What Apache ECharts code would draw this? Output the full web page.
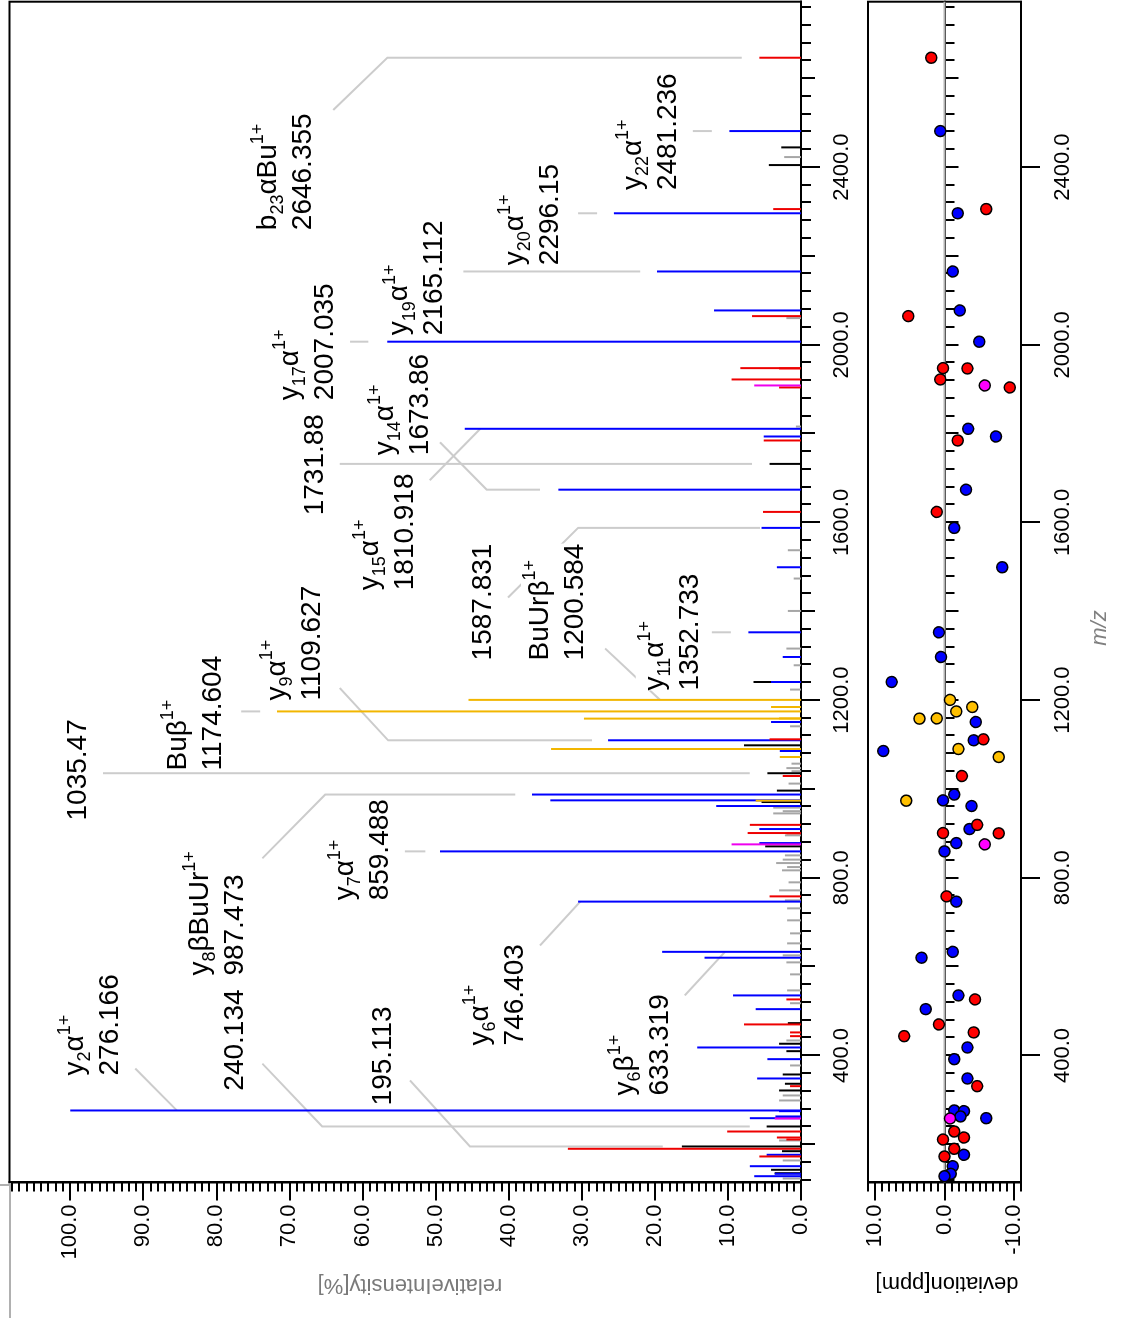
<!DOCTYPE html>
<html>
<head>
<meta charset="utf-8">
<script src="https://cdn.jsdelivr.net/npm/echarts@6/dist/echarts.min.js"></script>
<style>
html, body { margin: 0; padding: 0; background: #fff; overflow: hidden; }
#wrap { position: absolute; left: 0; top: 0; width: 1123px; height: 1321px; overflow: hidden; }
/* the chart is drawn lying down and turned a quarter turn to stand up */
#chart { position: absolute; left: 0; top: 0; width: 1321px; height: 1123px;
         transform-origin: 0 0; transform: translate(0, 1321px) rotate(-90deg); }
</style>
</head>
<body>
<div id="wrap"><div id="chart"></div></div>
<script>
var myChart = echarts.init(document.getElementById('chart'), null, { width: 1321, height: 1123 });
var FONT = '"Liberation Sans", Arial, sans-serif';

// axis ranges and tick labels
var mzRange = [114, 2772.5];
var intRange = [0, 108.3];
var devRange = [-11, 11];
var mzLabels = [400, 800, 1200, 1600, 2000, 2400];
var intLabels = [0, 10, 20, 30, 40, 50, 60, 70, 80, 90, 100];
var devLabels = [-10, 0, 10];

// peaks [m/z, relative intensity %]
var grayPeaks = [[2422.7, 2.3], [2060.1, 2.0], [1816.0, 0.7], [1537.5, 1.8], [1473.8, 1.0], [1400.8, 1.8],
  [1316.1, 2.0], [1278.5, 1.0], [1223.8, 1.5], [1141.1, 1.5], [1057, 1.3], [1047, 2.0], [1040, 1.3],
  [1012.1, 1.7], [958, 3.8], [950, 2.5], [945, 3.8], [895.6, 2.2], [850.5, 2.2], [840.9, 2.5],
  [833.2, 3.4], [824.2, 1.9], [816.8, 2.6], [789.8, 1.7], [771.7, 3.0], [749.2, 2.2], [731.2, 1.9],
  [704.2, 1.9], [674.9, 1.5], [652.4, 1.9], [625.4, 2.5], [609.6, 2.0], [582.6, 1.5], [546.5, 1.9],
  [517.6, 1.5], [433.8, 2.0], [377.5, 1.5], [310, 2.5], [298.7, 3.0], [208.6, 3.0], [163.6, 2.5], [123, 2.5]];
var blackPeaks = [[2444.5, 2.7], [2404.7, 4.4], [1731.88, 4.3], [1240.9, 6.5], [1098.3, 7.8], [1035.47, 4.6],
  [996.3, 3.3], [970.6, 5.4], [870.8, 4.9], [472.8, 1.8], [426.4, 3.0], [409.7, 2.0], [357.2, 2.5],
  [336.3, 2.2], [321.2, 3.0], [240.134, 4.7], [195.113, 16.3], [184.5, 2.6], [142.6, 4.1], [135.0, 3.6]];
var bluePeaks = [[2481.236, 9.8], [2296.15, 25.6], [2165.112, 19.7], [2077.4, 11.9], [2007.035, 56.6],
  [1810.918, 46.0], [1793.6, 5.1], [1673.86, 33.2], [1587.831, 5.4], [1499.2, 3.3], [1352.733, 7.2],
  [1297.2, 2.5], [1240.9, 4.1], [1150.8, 4.1], [1109.627, 26.4], [1085.5, 2.9], [987.473, 36.8],
  [974.4, 34.3], [961.6, 11.6], [909.8, 5.7], [878.2, 5.7], [859.488, 49.4], [746.403, 30.5],
  [633.319, 19.0], [620.1, 13.2], [535.2, 9.3], [504.3, 6.2], [418.0, 14.2], [391.7, 4.6], [348.2, 6.0],
  [276.166, 100.0], [274.6, 3.0], [262.7, 3.5], [258.8, 7.0], [176.4, 4.7], [150.7, 7.0], [133.6, 3.6], [128.2, 6.4]];
var redPeaks = [[2646.355, 5.7], [2305.6, 3.8], [2064.6, 6.7], [1947.5, 8.3], [1946.8, 3.0], [1922.0, 9.5],
  [1904.0, 3.0], [1784.6, 5.1], [1623.8, 5.2], [1111.8, 4.3], [1029.2, 2.5], [919.2, 7.0], [900.8, 7.3],
  [900.2, 2.0], [758.2, 4.3], [526.2, 2.0], [469.9, 7.8], [451.9, 1.5], [443.5, 1.5], [330.9, 1.5],
  [228.8, 10.1], [215.3, 3.3], [210.8, 2.0], [189.9, 31.9], [172.6, 5.7]];
var goldPeaks = [[1200.584, 45.5], [1184.6, 4.1], [1174.604, 71.7], [1158.4, 29.7], [1158.9, 3.0],
  [1090.0, 34.2], [1072.0, 2.9], [973.7, 6.2]];
var magentaPeaks = [[1908.5, 6.4], [875.3, 9.5], [258.1, 3.6]];

// mass deviation [m/z, ppm]
var blueDev = [[2481.236, 0.6], [2296.15, -1.9], [2165.112, -1.2], [2077.4, -2.2], [2007.035, -5.0],
  [1810.918, -3.4], [1793.6, -7.4], [1673.86, -3.1], [1587.831, -1.4], [1499.2, -8.3], [1352.733, 0.8],
  [1297.2, 0.5], [1240.9, 7.6], [1150.8, -4.5], [1109.627, -4.2], [1085.5, 8.8], [987.473, -1.4],
  [974.4, 0.2], [961.6, -3.9], [909.8, -3.6], [878.2, -1.7], [859.488, 0.0], [746.403, -1.7],
  [633.319, -1.2], [620.1, 3.3], [535.2, -2.0], [504.3, 2.7], [418.0, -3.3], [391.7, -1.4], [348.2, -3.3],
  [276.166, -1.4], [274.6, -2.8], [262.7, -2.3], [258.8, -6.0], [176.4, -2.8], [150.7, -1.2],
  [133.6, -0.9], [128.2, 0.0]];
var redDev = [[2646.355, 1.9], [2305.6, -6.0], [2064.6, 5.2], [1947.5, 0.2], [1946.8, -3.3], [1922.0, 0.6],
  [1904.0, -9.4], [1784.6, -1.9], [1623.8, 1.1], [1111.8, -5.6], [1029.2, -2.5], [919.2, -4.7],
  [900.8, 0.2], [900.2, -7.8], [758.2, -0.3], [526.2, -4.4], [469.9, 0.8], [451.9, -4.2], [443.5, 5.8],
  [330.9, -4.7], [228.8, -1.4], [215.3, -2.8], [210.8, 0.2], [189.9, -1.4], [172.6, 0.0]];
var goldDev = [[1200.584, -0.8], [1184.6, -4.0], [1174.604, -1.7], [1158.4, 3.6], [1158.9, 1.1],
  [1090.0, -2.0], [1072.0, -7.8], [973.7, 5.5]];
var magentaDev = [[1908.5, -5.8], [875.3, -5.8], [258.1, -0.8]];

// annotated peaks
var annoPeak = [276.166, 240.134, 195.113, 746.403, 633.319, 859.488, 1035.47, 1174.604, 1109.627, 987.473,
  1587.831, 1200.584, 1352.733, 1810.918, 1673.86, 1731.88, 2007.035, 2165.112, 2296.15, 2481.236, 2646.355];
var annoIon = ['y_{2}α^{1+}', '', '', 'y_{6}α^{1+}', 'y_{6}β^{1+}', 'y_{7}α^{1+}', '', 'Buβ^{1+}', 'y_{9}α^{1+}',
  'y_{8}βBuUr^{1+}', '', 'BuUrβ^{1+}', 'y_{11}α^{1+}', 'y_{15}α^{1+}', 'y_{14}α^{1+}', '', 'y_{17}α^{1+}',
  'y_{19}α^{1+}', 'y_{20}α^{1+}', 'y_{22}α^{1+}', 'b_{23}αBu^{1+}'];

// label placement: [m/z where text starts, intensity of first line]
var annoLabelAt = [[354.9, 99.3], [320.8, 77.4], [287.5, 57.2], [422.6, 43.9], [309.9, 24.1], [749.2, 62.4],
  [929.0, 98.9], [1041.6, 85.2], [1199.3, 71.7], [579.8, 82.2], [1289.5, 43.5], [1289.5, 35.7],
  [1221.9, 20.0], [1447.4, 59.0], [1751.5, 56.9], [1616.1, 66.5], [1875.4, 69.9], [2021.6, 54.9],
  [2179.3, 39.1], [2348.3, 23.0], [2258.1, 72.9]];
// leader lines, points in [m/z, intensity]
var annoLink = [
  [[370.7, 91.1], [276.166, 85.4]],
  [[381.6, 73.7], [240.134, 65.5], [240.134, 7.0]],
  [[343.8, 53.5], [195.113, 45.3], [195.113, 18.9]],
  [[647.6, 35.7], [746.403, 30.2]],
  [[535.2, 15.9], [633.319, 10.4]],
  [[859.488, 54.2], [859.488, 51.4]],
  [[1035.47, 95.5], [1035.47, 7.0]],
  [[1174.604, 76.6], [1174.604, 74.0]],
  [[1227.3, 63.1], [1109.627, 56.5], [1109.627, 28.6]],
  [[843.9, 73.7], [987.473, 65.1], [987.473, 39.1]],
  [[1431, 40.1], [1587.831, 30.5], [1587.831, 5.6]],
  [[1316.3, 26.8], [1200.584, 19.3]],
  [[1352.733, 12.2], [1352.733, 9.6]],
  [[1695.1, 50.8], [1810.918, 43.9]],
  [[1780.5, 49.4], [1673.86, 43.0], [1673.86, 35.7]],
  [[1731.88, 63.1], [1731.88, 6.7]],
  [[2007.035, 61.7], [2007.035, 59.2]],
  [[2165.112, 46.2], [2165.112, 22.0]],
  [[2296.15, 30.5], [2296.15, 27.9]],
  [[2481.236, 14.8], [2481.236, 12.2]],
  [[2528.7, 64.0], [2646.355, 56.6], [2646.355, 8.1]]
];

function steps(a, b, s) {
  var r = [];
  for (var v = a; v <= b + 1e-9; v += s) r.push(Math.round(v * 1000) / 1000);
  return r;
}

function mzAxis(grid, ticks, len, labels, margin) {
  return {
    type: 'value', gridIndex: grid, min: mzRange[0], max: mzRange[1], position: 'bottom',
    axisLine: { show: true, lineStyle: { color: '#000', width: 2 } },
    axisTick: { show: true, customValues: ticks, length: len, lineStyle: { color: '#000', width: 2 } },
    axisLabel: labels ? {
      show: true, customValues: labels, margin: margin, fontSize: 22, fontFamily: FONT, color: '#000',
      formatter: function (v) { return v.toFixed(1); }
    } : { show: false },
    splitLine: { show: false }
  };
}

function valAxis(grid, range, ticks, len, labels) {
  return {
    type: 'value', gridIndex: grid, min: range[0], max: range[1], position: 'left',
    axisLine: { show: true, lineStyle: { color: '#000', width: 2 } },
    axisTick: { show: true, customValues: ticks, length: len, lineStyle: { color: '#000', width: 2 } },
    axisLabel: labels ? {
      show: true, customValues: labels, margin: 22, fontSize: 22, fontFamily: FONT, color: '#000',
      formatter: function (v) { return v.toFixed(1); }
    } : { show: false },
    splitLine: { show: false }
  };
}

function sticks(data, color, z) {
  return {
    type: 'custom', xAxisIndex: 0, yAxisIndex: 0, data: data, z: z, silent: true,
    encode: { x: 0, y: 1 },
    renderItem: function (params, api) {
      var top = api.coord([api.value(0), api.value(1)]);
      var base = api.coord([api.value(0), 0]);
      return { type: 'line', shape: { x1: base[0], y1: base[1], x2: top[0], y2: top[1] },
        style: { stroke: color, lineWidth: 2 } };
    }
  };
}

function dots(data, color) {
  return {
    type: 'scatter', xAxisIndex: 3, yAxisIndex: 2, data: data, z: 5, silent: true,
    symbol: 'circle', symbolSize: 11,
    itemStyle: { color: color, borderColor: '#000', borderWidth: 1.5, opacity: 1 }
  };
}

function richLine(s) {
  var out = '', re = /([_^])\{([^}]*)\}|([^_^]+)/g, m;
  while ((m = re.exec(s))) {
    if (m[3]) out += '{n|' + m[3] + '}';
    else out += '{' + (m[1] === '_' ? 'sb' : 'sp') + '|' + m[2] + '}';
  }
  return out;
}

var annoData = annoPeak.map(function (mz) { return [mz, 0]; });

option = {
  backgroundColor: '#fff',
  animation: false,
  grid: [
    { left: 138.5, top: 9.5, width: 1180.8, height: 791.5, show: true, borderColor: '#000', borderWidth: 2,
      outerBoundsMode: 'none', containLabel: false },
    { left: 138.5, top: 868, width: 1180.8, height: 153, show: true, borderColor: '#000', borderWidth: 2,
      outerBoundsMode: 'none', containLabel: false }
  ],
  xAxis: [
    mzAxis(0, steps(120, 2760, 40), 10, null),
    mzAxis(0, steps(200, 2600, 200), 14, null),
    mzAxis(0, mzLabels, 19, mzLabels, 30),
    mzAxis(1, steps(120, 2760, 40), 10, null),
    mzAxis(1, steps(200, 2600, 200), 14, null),
    mzAxis(1, mzLabels, 19, mzLabels, 31)
  ],
  yAxis: [
    valAxis(0, intRange, steps(0, 108, 1), 9, null),
    valAxis(0, intRange, intLabels, 18, intLabels),
    valAxis(1, devRange, steps(-11, 11, 1), 9, null),
    valAxis(1, devRange, devLabels, 18, devLabels)
  ],
  graphic: [
    { type: 'text', x: 36, y: 410, rotation: Math.PI / 2, silent: true,
      style: { text: 'relativeIntensity[%]', fill: '#7a7a7a', fontSize: 22, fontFamily: FONT,
        align: 'center', verticalAlign: 'middle' } },
    { type: 'text', x: 38, y: 947, rotation: Math.PI / 2, silent: true,
      style: { text: 'deviation[ppm]', fill: '#000', fontSize: 22, fontFamily: FONT,
        align: 'center', verticalAlign: 'middle' } },
    { type: 'text', x: 693, y: 1100, silent: true,
      style: { text: 'm/z', fill: '#808080', fontSize: 22, fontStyle: 'italic', fontFamily: FONT,
        align: 'center', verticalAlign: 'middle' } },
    { type: 'line', silent: true, shape: { x1: 3, y1: 10, x2: 138, y2: 10 },
      style: { stroke: '#b0b0b0', lineWidth: 2 } },
    { type: 'line', silent: true, shape: { x1: 136, y1: 0, x2: 136, y2: 10 },
      style: { stroke: '#b0b0b0', lineWidth: 2 } }
  ],
  series: [
    {
      type: 'custom', xAxisIndex: 0, yAxisIndex: 0, data: annoData, z: 1, silent: true,
      encode: { x: 0, y: 1 },
      renderItem: function (params, api) {
        var pts = annoLink[params.dataIndex].map(function (p) { return api.coord(p); });
        return { type: 'polyline', shape: { points: pts },
          style: { stroke: '#cccccc', lineWidth: 2, fill: null } };
      }
    },
    sticks(grayPeaks, '#a6a6a6', 2),
    sticks(blackPeaks, '#000000', 3),
    sticks(bluePeaks, '#0000ff', 4),
    sticks(redPeaks, '#ee0000', 5),
    sticks(goldPeaks, '#f2b600', 6),
    sticks(magentaPeaks, '#ee00ee', 7),
    {
      type: 'custom', xAxisIndex: 0, yAxisIndex: 0, data: annoData, z: 10, silent: true,
      encode: { x: 0, y: 1 },
      renderItem: function (params, api) {
        var i = params.dataIndex;
        var at = api.coord(annoLabelAt[i]);
        var ion = annoIon[i];
        var txt = ion ? richLine(ion) + '\n{v|' + annoPeak[i] + '}' : '{v|' + annoPeak[i] + '}';
        return {
          type: 'text', x: at[0], y: at[1] - (ion ? 19 : 16),
          style: {
            text: txt, fill: '#000', fontFamily: FONT, fontSize: 28,
            align: 'left', verticalAlign: 'top', backgroundColor: '#fff',
            rich: {
              n: { fontSize: 28, fontFamily: FONT, lineHeight: 38, verticalAlign: 'middle' },
              sb: { fontSize: 18, fontFamily: FONT, lineHeight: 38, verticalAlign: 'bottom' },
              sp: { fontSize: 18, fontFamily: FONT, lineHeight: 38, verticalAlign: 'top' },
              v: { fontSize: 28, fontFamily: FONT, lineHeight: 32, verticalAlign: 'middle' }
            }
          }
        };
      }
    },
    {
      type: 'line', xAxisIndex: 3, yAxisIndex: 2, data: [[mzRange[0], 0], [mzRange[1], 0]], z: 2,
      symbol: 'none', silent: true, lineStyle: { color: '#b3b3b3', width: 2 }
    },
    dots(blueDev, '#0000ff'),
    dots(redDev, '#ff0000'),
    dots(goldDev, '#ffc000'),
    dots(magentaDev, '#ff00ff')
  ]
};

if (option && typeof option === 'object') {
  myChart.setOption(option, true);
}
</script>
</body>
</html>
